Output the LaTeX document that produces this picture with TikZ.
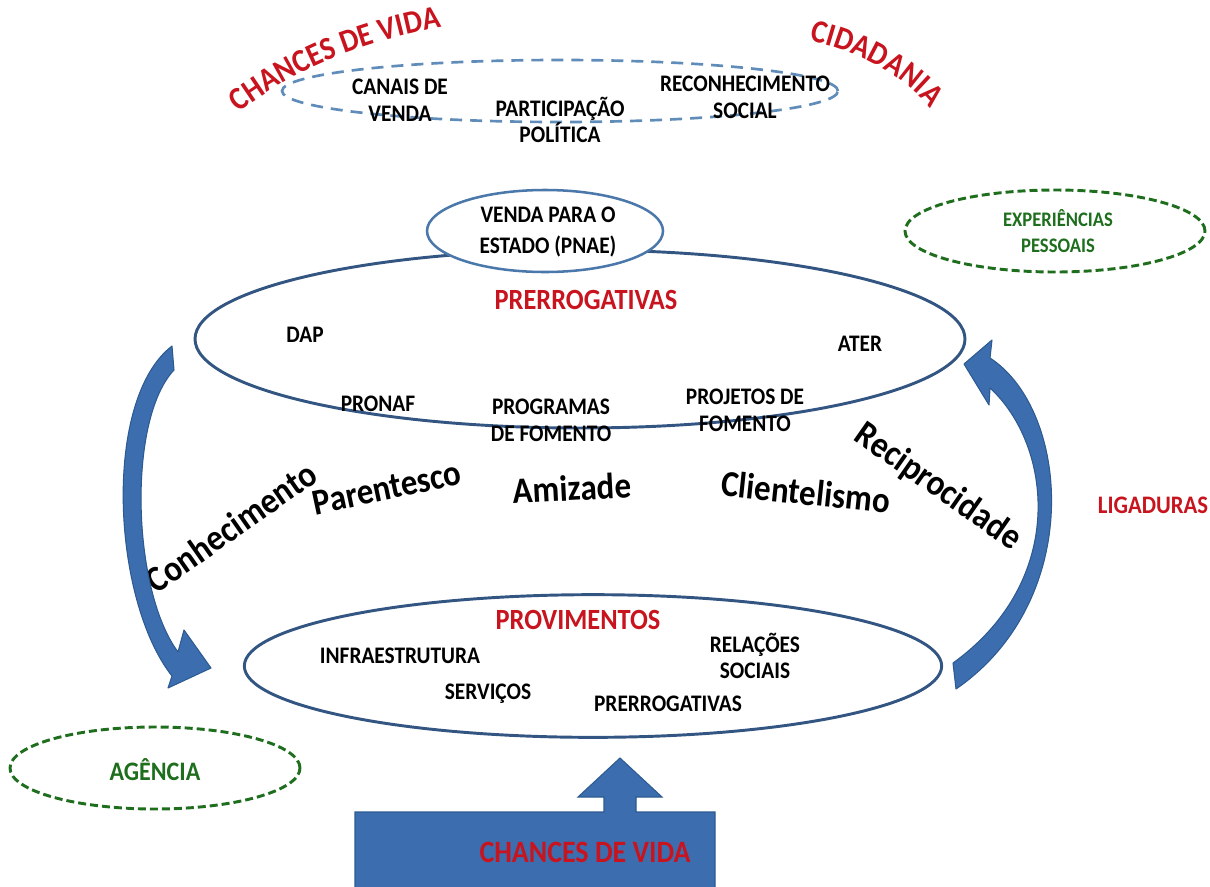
\documentclass[tikz,border=0pt]{standalone}
\usepackage{fontspec}
\setmainfont{Carlito}[FakeStretch=0.9]
\usetikzlibrary{shapes.geometric,decorations.text}
\definecolor{redc}{RGB}{200,20,30}
\definecolor{greenc}{RGB}{30,110,30}
\definecolor{arrowblue}{RGB}{60,110,175}
\definecolor{arrowedge}{RGB}{45,90,145}
\definecolor{ellblue}{RGB}{50,85,130}
\definecolor{lightblue}{RGB}{75,120,170}
\definecolor{dashblue}{RGB}{95,140,185}
\begin{document}
\begin{tikzpicture}[x=0.75pt,y=-0.75pt,
  lbl/.style={align=center, inner sep=0, font=\fontsize{17.8}{20}\selectfont\bfseries},
  redlbl/.style={inner sep=0, text=redc, font=\fontsize{22}{26}\selectfont\bfseries},
  word/.style={inner sep=0, font=\fontsize{27.5}{32}\selectfont\bfseries},
  greenlbl/.style={align=center, inner sep=0, text=greenc, font=\fontsize{15.5}{19}\selectfont\bfseries},
  oval/.style={ellipse, inner sep=0, draw},
  greenoval/.style={oval, draw=greenc, line width=2.2pt, dash pattern=on 6pt off 3pt},
  curvedarrow/.style={fill=arrowblue, draw=arrowedge, line width=0.8pt, line join=round}]
\useasboundingbox (0,0) rectangle (1210,886);

% top dashed ellipse
\node[oval, draw=dashblue, line width=2pt, dash pattern=on 9pt off 6pt,
      minimum width=417pt, minimum height=46.5pt] (top) at (560,91) {};
\node[lbl] (canais) at (400,100) {CANAIS DE\\VENDA};
\node[lbl] (part) at (560,120) {PARTICIPAÇÃO\\POLÍTICA};
\node[lbl] (recon) at (745,97) {RECONHECIMENTO\\SOCIAL};

% arced titles
\path[decorate, decoration={text along path, text align=center,
  text={|\fontsize{24.4}{28}\selectfont\bfseries\color{redc}|CHANCES DE VIDA}}]
  (224,124) .. controls (290,70) and (360,40) .. (460,24);
\path[decorate, decoration={text along path, text align=center,
  text={|\fontsize{24.4}{28}\selectfont\bfseries\color{redc}|CIDADANIA}}]
  (784,36) .. controls (850,46) and (915,75) .. (944,130);

% big ellipse (prerrogativas)
\node[oval, draw=ellblue, line width=2.2pt, minimum width=577.5pt, minimum height=133.5pt] (prer) at (580,339) {};
% venda ellipse
\node[oval, draw=lightblue, fill=white, line width=1.9pt, minimum width=177pt, minimum height=61.5pt] (venda) at (545,231) {};
\node[lbl, font=\fontsize{17.8}{23}\selectfont\bfseries] (vendat) at (548,232) {VENDA PARA O\\ESTADO (PNAE)};

\node[redlbl] (prert) at (586,300) {PRERROGATIVAS};
\node[lbl] (dap) at (305,335) {DAP};
\node[lbl] (ater) at (860,344) {ATER};
\node[lbl] (pronaf) at (378,404) {PRONAF};
\node[lbl] (prog) at (551,420) {PROGRAMAS\\DE FOMENTO};
\node[lbl] (proj) at (745,410) {PROJETOS DE\\FOMENTO};

% lower ellipse (provimentos)
\node[oval, draw=ellblue, line width=2.2pt, minimum width=523pt, minimum height=107pt] (prov) at (593,666) {};
\node[redlbl] (provt) at (578,620) {PROVIMENTOS};
\node[lbl] (infra) at (400,656) {INFRAESTRUTURA};
\node[lbl] (rel) at (755,656) {RELAÇÕES\\SOCIAIS};
\node[lbl] (serv) at (488,694) {SERVIÇOS};
\node[lbl] (prer2) at (668,704) {PRERROGATIVAS};

% middle words
\node[word, rotate=35] (conh) at (231,527) {Conhecimento};
\node[word, rotate=12] (paren) at (387,488) {Parentesco};
\node[word, rotate=3] (amiz) at (572,488) {Amizade};
\node[word, rotate=-6] (clien) at (806,492) {Clientelismo};
\node[word, rotate=-35] (recip) at (938,487) {Reciprocidade};
\node[redlbl, font=\fontsize{18.9}{22}\selectfont\bfseries] (lig) at (1153,505) {LIGADURAS};

% green ovals
\node[greenoval, minimum width=225pt, minimum height=61.5pt] (expo) at (1055,231) {};
\node[greenlbl] (exp) at (1058,231) {EXPERIÊNCIAS\\PESSOAIS};
\node[greenoval, minimum width=217.5pt, minimum height=61.5pt] (ago) at (155,768) {};
\node[greenlbl, font=\fontsize{20}{24}\selectfont\bfseries] (ag) at (155,770) {AGÊNCIA};

% curved arrows
\draw[curvedarrow] (172,346) .. controls (102,400) and (112,600) .. (172,676)
  -- (168,688) -- (211,668) -- (184,630) -- (178,652)
  .. controls (132,590) and (127,420) .. (174,370) -- cycle;
\draw[curvedarrow] (956,689) .. controls (1085,600) and (1070,410) .. (990,358)
  -- (992,340) -- (964,364) -- (989,405) -- (990,388)
  .. controls (1052,445) and (1068,580) .. (953,663) -- cycle;

% bottom block arrow
\draw[fill=arrowblue, draw=arrowedge, line width=0.8pt, line join=miter]
  (355,895) -- (355,812) -- (604,812) -- (604,797) -- (578,797) -- (620,758)
  -- (662,797) -- (636,797) -- (636,812) -- (715,812) -- (715,895);
\node[redlbl, font=\fontsize{23.3}{27}\selectfont\bfseries] (chv) at (585,852) {CHANCES DE VIDA};
\end{tikzpicture}
\end{document}
